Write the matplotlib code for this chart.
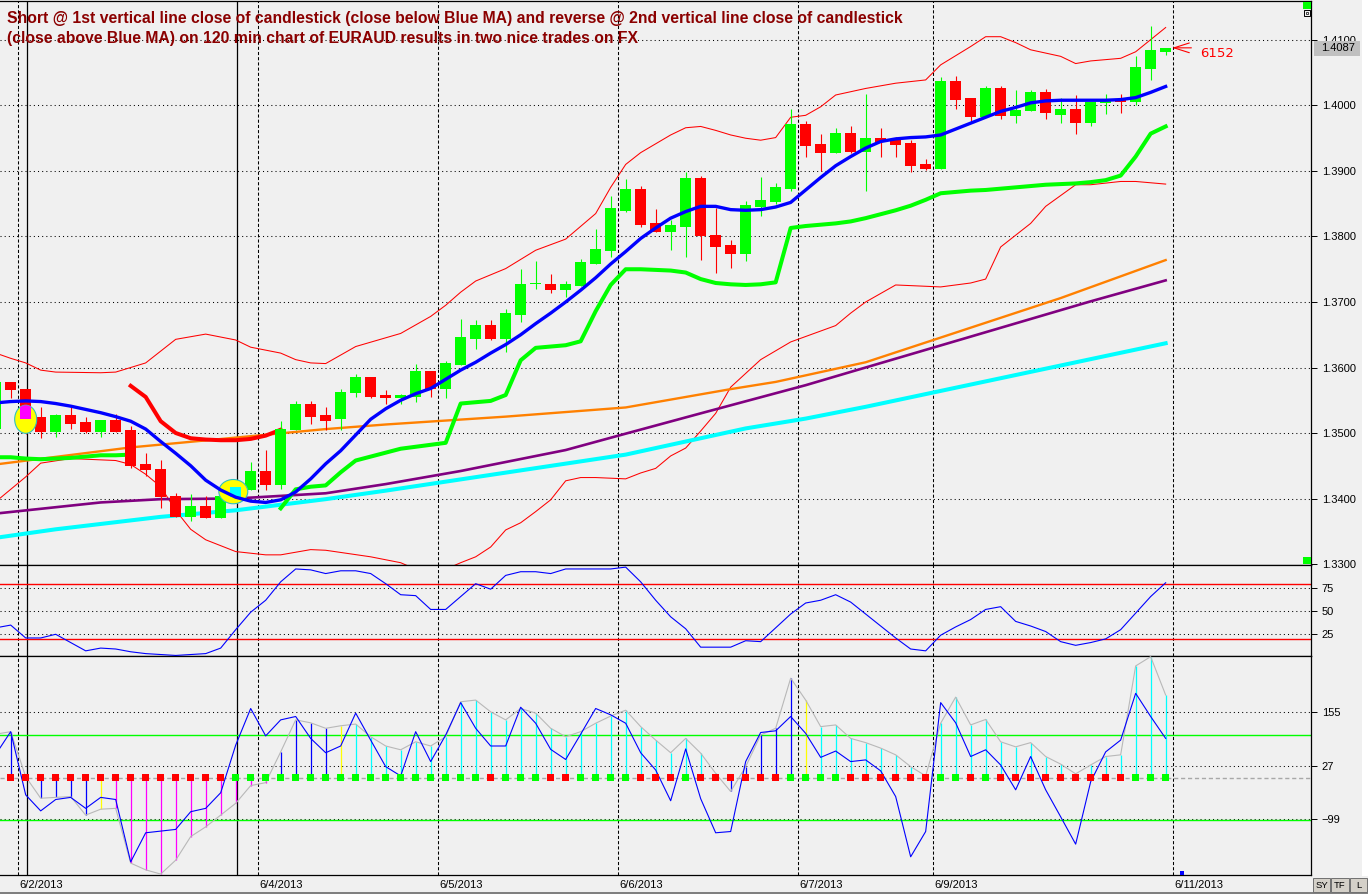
import numpy as np
import matplotlib
matplotlib.use("Agg")
import matplotlib.pyplot as plt
from matplotlib.patches import Ellipse, Rectangle
from matplotlib.transforms import blended_transform_factory

plt.rcParams["font.family"] = ["Liberation Sans", "DejaVu Sans"]

# ---- price data (120 min EURAUD), bar index -1 .. 77 ----
bars = np.arange(-1, 78)
opens = [1.3506, 1.3578, 1.3567, 1.3524, 1.3502, 1.3527, 1.3517, 1.3502, 1.3520, 1.3505,
         1.3453, 1.3445, 1.3404, 1.3372, 1.3389, 1.3371, 1.3403, 1.3413, 1.3442, 1.3420,
         1.3505, 1.3544, 1.3527, 1.3521, 1.3561, 1.3585, 1.3558, 1.3553, 1.3555, 1.3594,
         1.3567, 1.3604, 1.3643, 1.3665, 1.3643, 1.3680, 1.3727, 1.3728, 1.3719, 1.3725,
         1.3758, 1.3778, 1.3839, 1.3872, 1.3820, 1.3807, 1.3815, 1.3889, 1.3803, 1.3787,
         1.3773, 1.3845, 1.3853, 1.3873, 1.3972, 1.3941, 1.3928, 1.3958, 1.3929, 1.3951,
         1.3947, 1.3942, 1.3910, 1.3903, 1.4037, 1.4012, 1.3983, 1.4027, 1.3984, 1.3992,
         1.4021, 1.3986, 1.3995, 1.3974, 1.4004, 1.4010, 1.4006, 1.4056, 1.4082]
highs = [1.3580, 1.3578, 1.3567, 1.3539, 1.3529, 1.3540, 1.3524, 1.3520, 1.3529, 1.3510,
         1.3469, 1.3459, 1.3408, 1.3407, 1.3404, 1.3411, 1.3425, 1.3456, 1.3474, 1.3519,
         1.3549, 1.3549, 1.3539, 1.3567, 1.3590, 1.3585, 1.3565, 1.3560, 1.3605, 1.3594,
         1.3610, 1.3674, 1.3673, 1.3673, 1.3689, 1.3750, 1.3762, 1.3743, 1.3732, 1.3765,
         1.3811, 1.3862, 1.3888, 1.3877, 1.3842, 1.3825, 1.3898, 1.3892, 1.3844, 1.3795,
         1.3854, 1.3891, 1.3882, 1.3995, 1.3976, 1.3957, 1.3966, 1.3969, 1.4018, 1.3966,
         1.3952, 1.3947, 1.3918, 1.4043, 1.4045, 1.4012, 1.4029, 1.4030, 1.4024, 1.4023,
         1.4025, 1.4012, 1.4016, 1.4005, 1.4017, 1.4017, 1.4076, 1.4121, 1.4087]
lows = [1.3506, 1.3553, 1.3498, 1.3493, 1.3494, 1.3506, 1.3500, 1.3494, 1.3502, 1.3446,
        1.3435, 1.3386, 1.3372, 1.3366, 1.3371, 1.3371, 1.3400, 1.3413, 1.3413, 1.3414,
        1.3505, 1.3514, 1.3505, 1.3505, 1.3555, 1.3553, 1.3545, 1.3545, 1.3548, 1.3555,
        1.3554, 1.3604, 1.3628, 1.3642, 1.3624, 1.3670, 1.3720, 1.3714, 1.3708, 1.3725,
        1.3758, 1.3769, 1.3838, 1.3815, 1.3807, 1.3779, 1.3768, 1.3764, 1.3744, 1.3752,
        1.3763, 1.3832, 1.3850, 1.3870, 1.3922, 1.3900, 1.3928, 1.3927, 1.3870, 1.3921,
        1.3921, 1.3899, 1.3902, 1.3903, 1.3994, 1.3975, 1.3983, 1.3979, 1.3973, 1.3992,
        1.3979, 1.3974, 1.3956, 1.3969, 1.3987, 1.3989, 1.4000, 1.4039, 1.4077]
closes = [1.3578, 1.3565, 1.3521, 1.3502, 1.3527, 1.3514, 1.3502, 1.3520, 1.3502, 1.3450,
          1.3443, 1.3402, 1.3372, 1.3389, 1.3371, 1.3404, 1.3418, 1.3442, 1.3420, 1.3506,
          1.3544, 1.3525, 1.3519, 1.3563, 1.3585, 1.3555, 1.3553, 1.3558, 1.3594, 1.3567,
          1.3607, 1.3647, 1.3665, 1.3643, 1.3683, 1.3728, 1.3728, 1.3719, 1.3728, 1.3761,
          1.3781, 1.3843, 1.3872, 1.3817, 1.3807, 1.3817, 1.3889, 1.3801, 1.3784, 1.3773,
          1.3848, 1.3855, 1.3876, 1.3972, 1.3938, 1.3928, 1.3958, 1.3929, 1.3951, 1.3944,
          1.3940, 1.3908, 1.3903, 1.4037, 1.4008, 1.3983, 1.4027, 1.3984, 1.3993, 1.4021,
          1.3988, 1.3995, 1.3974, 1.4005, 1.4010, 1.4006, 1.4059, 1.4085, 1.4087]

# blue MA, one value per bar
blue_ma = [1.3546, 1.3548, 1.3549, 1.3548, 1.3545, 1.3541, 1.3536, 1.3531, 1.3525, 1.3518,
           1.3506, 1.3487, 1.3469, 1.3450, 1.3428, 1.3413, 1.3402, 1.3396, 1.3394, 1.3398,
           1.3410, 1.3430, 1.3453, 1.3473, 1.3497, 1.3521, 1.3537, 1.3550, 1.3560, 1.3568,
           1.3582, 1.3596, 1.3608, 1.3622, 1.3635, 1.3650, 1.3667, 1.3683, 1.3700, 1.3718,
           1.3737, 1.3758, 1.3777, 1.3797, 1.3813, 1.3828, 1.3838, 1.3846, 1.3846, 1.3841,
           1.3840, 1.3841, 1.3845, 1.3852, 1.3871, 1.3890, 1.3908, 1.3922, 1.3935, 1.3945,
           1.3949, 1.3951, 1.3952, 1.3955, 1.3964, 1.3973, 1.3982, 1.3991, 1.3997, 1.4004,
           1.4007, 1.4008, 1.4008, 1.4008, 1.4008, 1.4009, 1.4012, 1.4020, 1.4029]

# trailing stop: green below price, red above price (None = inactive)
stop_green = ([1.3463, 1.3463, 1.3461, 1.3460, 1.3461, 1.3462, 1.3464, 1.3466, 1.3466, 1.3467]
              + [None] * 9 +
              [1.3385, 1.3414, 1.3418, 1.3420, 1.3440, 1.3458, 1.3464, 1.3470, 1.3476, 1.3479,
               1.3482, 1.3485, 1.3545, 1.3547, 1.3549, 1.3558, 1.3611, 1.3630, 1.3632, 1.3634,
               1.3640, 1.3686, 1.3726, 1.3750, 1.3750, 1.3749, 1.3748, 1.3745, 1.3735, 1.3729,
               1.3727, 1.3726, 1.3727, 1.3730, 1.3813, 1.3816, 1.3818, 1.3820, 1.3823, 1.3828,
               1.3834, 1.3840, 1.3847, 1.3856, 1.3866, 1.3868, 1.3870, 1.3871, 1.3873, 1.3875,
               1.3877, 1.3879, 1.3880, 1.3881, 1.3883, 1.3886, 1.3893, 1.3922, 1.3957, 1.3968])
stop_red = ([None] * 9 +
            [1.3572, 1.3555, 1.3518, 1.3500, 1.3492, 1.3490, 1.3489, 1.3489, 1.3491, 1.3496, 1.3505]
            + [None] * 59)

# slower moving averages (read at selected bars)
orange_x = [-1, 8, 15, 21, 25, 33, 41, 48, 51, 57, 70, 77]
orange_ma = [1.3452, 1.3478, 1.3493, 1.3506, 1.3513, 1.3525, 1.3539, 1.3567, 1.3578, 1.3608, 1.3706, 1.3764]
purple_x = [-1, 6, 10, 15, 21, 25, 30, 37, 41, 46, 53, 57, 72, 77]
purple_ma = [1.3377, 1.3394, 1.3399, 1.3400, 1.3408, 1.3422, 1.3442, 1.3474, 1.3499, 1.3530,
             1.3573, 1.3600, 1.3701, 1.3733]
cyan_x = [-1, 3, 10, 15, 21, 25, 41, 49, 53, 57, 77]
cyan_ma = [1.3340, 1.3353, 1.3372, 1.3382, 1.3399, 1.3412, 1.3467, 1.3507, 1.3522, 1.3540, 1.3637]

# Bollinger bands
bb_up_x = [-1, 0, 1, 2, 3, 6, 7, 8, 9, 10, 11, 13, 15, 16, 18, 19, 20, 21, 23, 26, 28, 29, 30,
           31, 33, 35, 37, 39, 40, 41, 42, 44, 45, 46, 47, 48, 49, 50, 51, 52, 53, 54, 55, 57,
           59, 61, 62, 64, 65, 66, 67, 68, 70, 71, 72, 74, 75, 77]
bb_up = [1.3622, 1.3614, 1.3607, 1.3596, 1.3593, 1.3592, 1.3593, 1.3600, 1.3607, 1.3625,
         1.3643, 1.3651, 1.3642, 1.3631, 1.3622, 1.3612, 1.3607, 1.3606, 1.3632, 1.3652,
         1.3678, 1.3695, 1.3715, 1.3732, 1.3751, 1.3779, 1.3796, 1.3835, 1.3875, 1.3910,
         1.3928, 1.3955, 1.3966, 1.3968, 1.3962, 1.3955, 1.3950, 1.3947, 1.3951, 1.3982,
         1.3985, 1.3998, 1.4016, 1.4026, 1.4034, 1.4039, 1.4062, 1.4090, 1.4105, 1.4105,
         1.4096, 1.4085, 1.4075, 1.4064, 1.4068, 1.4072, 1.4082, 1.4119]
bb_lo_x = [-1, 1, 2, 4, 7, 8, 9, 10, 11, 12, 13, 15, 17, 18, 20, 21, 24, 26, 27, 28, 29, 30,
           31, 32, 33, 34, 35, 36, 37, 38, 39, 41, 42, 43, 44, 45, 46, 47, 48, 50, 52, 55,
           56, 57, 59, 62, 64, 65, 66, 68, 69, 71, 72, 74, 75, 77]
bb_lo = [1.3395, 1.3433, 1.3454, 1.3461, 1.3458, 1.3452, 1.3437, 1.3418, 1.3382, 1.3353,
         1.3337, 1.3319, 1.3314, 1.3314, 1.3322, 1.3321, 1.3311, 1.3302, 1.3292, 1.3288,
         1.3292, 1.3302, 1.3311, 1.3326, 1.3352, 1.3363, 1.3380, 1.3398, 1.3427, 1.3432,
         1.3432, 1.3430, 1.3439, 1.3446, 1.3465, 1.3477, 1.3503, 1.3530, 1.3570, 1.3612,
         1.3639, 1.3664, 1.3683, 1.3700, 1.3726, 1.3723, 1.3729, 1.3735, 1.3784, 1.3820,
         1.3846, 1.3879, 1.3879, 1.3884, 1.3884, 1.3880]

# stochastic
stoch = [32, 35, 21, 21, 25, 16, 7, 10, 9, 6, 4, 3, 2, 3, 4, 10, 30, 49, 62, 82,
         96, 95, 91, 94, 94, 91, 80, 68, 67, 52, 52, 66, 80, 74, 89, 93, 93, 91, 96, 96,
         96, 96, 98, 82, 62, 44, 31, 11, 11, 11, 18, 17, 32, 47, 59, 62, 68, 60, 47, 34,
         21, 9, 7, 24, 33, 41, 52, 55, 39, 34, 28, 17, 13, 16, 20, 30, 48, 66, 81]

# CCI fast (blue) and slow (grey)
cci_fast = [55, 109, -41, -79, -52, -47, -73, -47, -52, -200, -131, -127, -123, -81, -73, -36,
            77, 164, 99, 137, 145, 93, 59, 75, 153, 89, 26, 4, 109, 38, 101, 178, 117, 75, 75,
            167, 129, 67, 43, 103, 164, 149, 129, 59, 18, -55, 68, -50, -131, -128, 38, 107,
            111, 145, 105, 48, 63, 38, 42, 16, -45, -188, -128, 178, 130, 50, 66, 30, -29, 50,
            -29, -93, -158, -10, 61, 89, 200, 145, 93]
cci_slow = [103, 109, 2, -49, -47, -45, -89, -75, -73, -203, -219, -229, -196, -140, -117, -89,
            -61, -19, -12, 61, 137, 130, 117, 123, 127, 97, 75, 66, 85, 75, 97, 180, 184, 156,
            137, 164, 153, 117, 97, 109, 129, 146, 160, 121, 89, 59, 93, 58, 10, -33, 26, 101,
            117, 236, 184, 121, 125, 93, 83, 70, 54, 26, 4, 129, 191, 125, 138, 85, 73, 83, 50,
            32, 9, 30, 50, 54, 265, 287, 196]
hist_colors = "BBBBBBBYMMMMMMMMMMMBBBBYCCCCCCCCCCCCCCCCCCCCCCCCCBBBBBYCCCCCCCCCCCCCCCCCCCCCCCC"
trend_marks = "RRRRRRRRRRRRRRRRGGGGGGGGGGGGGGGGGRGGGRRGGGGRRRGRRRRRRGGGGRRRRRRGGRGRRRRRRRRRGGG"

date_pos = [0.5, 16.5, 28.5, 40.5, 52.5, 61.5, 77.5]
date_labels = ["6/2/2013", "6/4/2013", "6/5/2013", "6/6/2013", "6/7/2013", "6/9/2013", "6/11/2013"]
trade_bars = [1.1, 15.1]
price_ticks = [1.33, 1.34, 1.35, 1.36, 1.37, 1.38, 1.39, 1.40, 1.41]
stoch_ticks = [25, 50, 75]
cci_ticks = [-99, 27, 155]

title = ("Short @ 1st vertical line close of candlestick (close below Blue MA) and reverse @ 2nd "
         "vertical line close of candlestick\n(close above Blue MA) on 120 min chart of EURAUD "
         "results in two nice trades on FX")

# ---- figure ----
W, H = 1368, 894
BG = "#F0F0F0"
fig = plt.figure(figsize=(W / 100, H / 100), dpi=100, facecolor=BG)


def box(x0, y0, x1, y1):
    return [x0 / W, 1 - y1 / H, (x1 - x0) / W, (y1 - y0) / H]


ax1 = fig.add_axes(box(0, 1, 1311, 565))
ax2 = fig.add_axes(box(0, 565, 1311, 656))
ax3 = fig.add_axes(box(0, 656, 1311, 875))

xlim = (-0.713, 86.69)
for ax in (ax1, ax2, ax3):
    ax.set_facecolor(BG)
    ax.set_xlim(*xlim)
    ax.set_xticks([])
    ax.spines["left"].set_visible(False)
    for s in ("top", "bottom", "right"):
        ax.spines[s].set_linewidth(0.9)
        ax.spines[s].set_color("black")
    ax.yaxis.tick_right()
    ax.tick_params(axis="y", direction="out", length=4.3, width=0.7, pad=3.5,
                   labelsize=8.0, colors="black")
    for d in date_pos:
        ax.axvline(d, color="black", lw=0.75, ls=(0, (3, 2)), zorder=1)
    for t in trade_bars:
        ax.axvline(t, color="black", lw=0.9, zorder=1)

# ---- main panel ----
ax1.set_ylim(1.32985, 1.41595)
ax1.set_yticks(price_ticks)
ax1.set_yticklabels([f"{p:.4f}" for p in price_ticks])
for p in price_ticks[1:]:
    ax1.axhline(p, color="black", lw=0.75, ls=(0, (1, 3)), zorder=1)

ax1.plot(bb_up_x, bb_up, color="#FF0000", lw=0.75, zorder=2)
ax1.plot(bb_lo_x, bb_lo, color="#FF0000", lw=0.75, zorder=2)
ax1.plot(cyan_x, cyan_ma, color="#00FFFF", lw=2.9, zorder=2)
ax1.plot(purple_x, purple_ma, color="#800080", lw=1.9, zorder=2)
ax1.plot(orange_x, orange_ma, color="#FF8000", lw=1.7, zorder=2)
sg = np.array([np.nan if v is None else v for v in stop_green])
sr = np.array([np.nan if v is None else v for v in stop_red])
ax1.plot(bars, sg, color="#00FF00", lw=2.9, zorder=2)
ax1.plot(bars, sr, color="#FF0000", lw=2.9, zorder=2)

o = np.array(opens)
c = np.array(closes)
candle_col = np.where(c >= o, "#00FF00", "#FF0000")
ax1.vlines(bars, lows, highs, colors=candle_col, lw=0.8, zorder=3)
body_lo = np.minimum(o, c)
body_h = np.maximum(np.abs(c - o), 0.00016)
ax1.bar(bars, body_h, bottom=body_lo, width=0.73, color=candle_col, lw=0, zorder=3)

# trade markers (yellow circles) on the two signal candles
for k, (b, w, h, col) in enumerate([(1, 1.47, 0.0043, "#FF00FF"), (15, 1.93, 0.0037, "#00FFFF")]):
    i = b + 1
    cy = c[i] if k == 0 else (o[i] + c[i]) / 2
    cx = b if k == 0 else b - 0.16
    ell = Ellipse((cx, cy), w, h, fc="#FFFF00", ec="#30C0C0", lw=0.8, zorder=4)
    ax1.add_patch(ell)
    hl = Rectangle((b - 0.365, body_lo[i]), 0.73, body_h[i], fc=col, ec="none", zorder=5)
    ax1.add_patch(hl)
    hl.set_clip_path(ell)

ax1.plot(bars, blue_ma, color="#0000FF", lw=2.4, zorder=6)

# last price box and arrow
tr1 = blended_transform_factory(ax1.transAxes, ax1.transData)
ax1.add_patch(Rectangle((1.0023, closes[-1] - 0.00107), 0.0351, 0.00214, transform=tr1,
                        fc="#C0C0C0", ec="none", clip_on=False, zorder=7))
ax1.text(1.0076, closes[-1], f"{closes[-1]:.4f}", transform=tr1, fontsize=8.0,
         va="center", ha="left", zorder=8, clip_on=False)
ax1.annotate("", xy=(bars[-1] + 0.25, closes[-1] + 0.0001), xytext=(bars[-1] + 1.9, closes[-1] + 0.0001),
             arrowprops=dict(arrowstyle="->,head_length=1.1,head_width=0.35", color="#FF0000", lw=0.8),
             zorder=8)
ax1.annotate("6152", xy=(bars[-1], closes[-1]), xytext=(34, -5), textcoords="offset pixels",
             color="#FF0000", fontsize=9.5, family="DejaVu Sans", va="center", ha="left")

ax1.text(7 / 1311, 1 - 10 / 564, title, transform=ax1.transAxes, fontsize=11.35,
         fontweight="bold", color="#8B0000", va="top", ha="left", linespacing=1.38, zorder=9)

# ---- stochastic panel ----
ax2.set_ylim(1.4, 100.3)
ax2.set_yticks(stoch_ticks)
for v in stoch_ticks:
    ax2.axhline(v, color="black", lw=0.75, ls=(0, (1, 3)), zorder=1)
ax2.axhline(80, color="#FF0000", lw=1.0, zorder=2)
ax2.axhline(20, color="#FF0000", lw=1.0, zorder=2)
ax2.plot(bars, stoch, color="#0000FF", lw=0.8, zorder=3)

# ---- CCI panel ----
ax3.set_ylim(-231.2, 288.6)
ax3.set_yticks(cci_ticks)
for v in cci_ticks:
    ax3.axhline(v, color="black", lw=0.75, ls=(0, (1, 3)), zorder=1)
ax3.axhline(100, color="#00FF00", lw=1.0, zorder=1)
ax3.axhline(-100, color="#00FF00", lw=1.0, zorder=1)
ax3.axhline(0, color="#A8A8A8", lw=1.0, ls=(0, (3, 2)), zorder=1)
cmap = {"B": "#0000FF", "Y": "#FFFF00", "M": "#FF00FF", "C": "#00FFFF"}
ax3.vlines(bars, 0, cci_slow, colors=[cmap[k] for k in hist_colors], lw=0.9, zorder=2)
ax3.plot(bars, cci_slow, color="#B8B8B8", lw=0.8, zorder=3)
ax3.plot(bars, cci_fast, color="#0000FF", lw=0.8, zorder=4)
mcol = ["#FF0000" if k == "R" else "#00FF00" for k in trend_marks]
ax3.scatter(bars, np.zeros(len(bars)), marker="s", s=22, c=mcol, lw=0, zorder=5)

trx = blended_transform_factory(ax3.transData, ax3.transAxes)
for d, lab in zip(date_pos, date_labels):
    ax3.text(d + 0.05, -0.022, lab, transform=trx, fontsize=8.0, va="top", ha="left", clip_on=False)

# ---- chrome ----
def frect(x0, y0, x1, y1, **kw):
    fig.patches.append(Rectangle((x0 / W, 1 - y1 / H), (x1 - x0) / W, (y1 - y0) / H,
                                 transform=fig.transFigure, figure=fig, **kw))


frect(1362, 0, 1368, 876, fc="white", ec="none")
frect(1303, 2, 1311, 9, fc="#00FF00", ec="none")
frect(1304, 10, 1310, 16, fc=BG, ec="black", lw=0.7)
frect(1306, 12, 1308, 14, fc=BG, ec="black", lw=0.5)
frect(1303, 557, 1311, 564, fc="#00FF00", ec="none")
frect(1180, 871, 1184, 875, fc="#0000FF", ec="none")
frect(0, 892, 1368, 894, fc="#808080", ec="none")
for x0, x1, lab in [(1313, 1330, "SY"), (1331, 1349, "TF"), (1350, 1367, "L")]:
    frect(x0, 878, x1, 892, fc="#D4D0C8", ec="#707070", lw=0.7)
    fig.text((x0 + x1) / 2 / W, 1 - 885 / H, lab, fontsize=6.8, ha="center", va="center")

fig.savefig("out.png", dpi=100, facecolor=BG)
